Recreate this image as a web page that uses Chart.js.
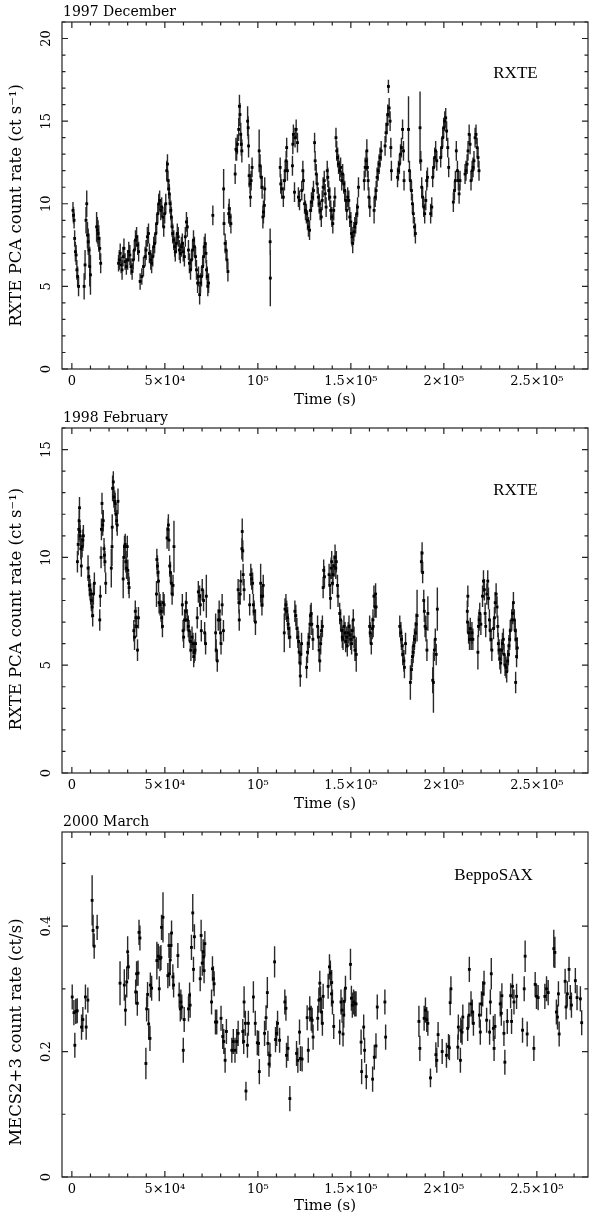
<!DOCTYPE html>
<html>
<head>
<meta charset="utf-8">
<script src="https://cdn.jsdelivr.net/npm/chart.js@4.4.1/dist/chart.umd.min.js"></script>
<style>
html, body { margin: 0; padding: 0; background: #fff; }
#wrap { position: relative; width: 592px; height: 1216px; overflow: hidden; }
#wrap canvas { position: absolute; left: 0; }
</style>
</head>
<body>
<div id="wrap">
  <canvas id="c1" width="592" height="410" style="top:0"></canvas>
  <canvas id="c2" width="592" height="408" style="top:406px"></canvas>
  <canvas id="c3" width="592" height="406" style="top:810px"></canvas>
</div>
<script>
// time in ks, rate, 1-sigma error
const dec97 = [
[0.6,9.6,0.5],[0.9,9.3,0.5],[1.2,9.0,0.5],[1.5,7.9,0.5],[1.9,7.1,0.6],[2.3,6.9,0.6],[2.7,6.0,0.6],[3.1,5.6,0.6],[3.6,5.0,0.6],
[6.6,5.0,0.8],[7.1,6.3,0.9],[7.6,9.0,0.8],[8.0,10.0,0.8],[8.4,8.1,0.8],[8.8,7.7,0.8],[9.2,7.2,1.0],[9.6,6.2,1.2],[10.0,5.7,1.2],
[13.3,8.6,0.9],[13.7,8.4,0.8],[14.1,8.2,0.8],[14.5,7.9,0.8],[15.0,7.3,0.7],[15.5,6.4,0.6],
[25.1,6.4,0.5],[25.5,6.6,0.6],[26.0,7.0,0.6],[26.5,6.3,0.5],[27.0,6.0,0.6],[27.5,6.8,0.6],[28.0,7.3,0.6],[28.6,6.5,0.5],[29.3,6.2,0.5],[30.0,6.6,0.6],[30.6,7.1,0.6],[31.2,6.9,0.6],[31.8,6.2,0.5],[32.4,5.9,0.5],[33.0,6.6,0.6],[33.6,7.2,0.6],[34.2,7.8,0.6],[34.8,8.0,0.6],[35.4,7.5,0.6],[35.9,7.1,0.6],
[36.7,5.3,0.5],[37.6,5.6,0.5],[38.5,6.2,0.6],[39.4,6.8,0.6],[39.9,7.2,0.6],[40.6,8.0,0.6],[41.2,8.2,0.6],[41.7,7.0,0.6],[42.4,6.6,0.6],[42.9,6.4,0.6],[43.5,6.8,0.6],[44.0,7.4,0.6],[44.5,7.6,0.6],[45.1,8.2,0.6],[45.6,8.8,0.6],[46.2,9.4,0.6],[46.7,10.0,0.6],[47.2,10.2,0.6],[47.8,9.6,0.6],[48.3,9.8,0.6],[48.9,9.2,0.6],[49.4,8.6,0.6],[49.9,9.4,0.6],[50.5,10.0,0.6],
[51.0,12.0,0.6],[51.4,12.4,0.6],[51.7,11.4,0.6],[52.1,10.9,0.6],[52.4,10.6,0.6],[52.8,10.0,0.6],[53.2,9.6,0.6],[53.5,9.2,0.6],[53.9,8.6,0.6],[54.2,8.2,0.6],[54.8,7.8,0.6],[55.3,7.4,0.6],[55.6,7.1,0.6],[56.2,7.6,0.6],[56.7,8.2,0.6],[57.2,8.0,0.6],[57.8,7.2,0.6],[58.3,7.0,0.6],[58.9,7.4,0.6],[59.4,7.6,0.6],[59.9,7.1,0.6],[60.5,6.8,0.6],[61.0,8.0,0.6],[61.6,8.9,0.6],[62.1,8.6,0.6],[62.7,7.2,0.6],[63.2,6.4,0.6],[63.8,6.0,0.6],[64.3,6.6,0.6],[64.9,7.2,0.6],[65.4,7.8,0.6],[65.9,7.4,0.6],[66.5,6.8,0.6],[67.0,6.0,0.6],[67.6,5.2,0.6],[68.1,5.6,0.6],[68.7,4.5,0.6],[69.2,5.2,0.6],[69.7,5.6,0.6],[70.3,6.2,0.6],[70.8,6.8,0.6],[71.2,7.4,0.6],[71.7,7.6,0.6],[72.1,7.0,0.6],[72.4,6.0,0.6],[72.8,5.6,0.6],[73.1,5.0,0.6],[73.5,5.2,0.6],
[75.8,9.3,0.6],
[81.6,10.9,1.2],[81.8,8.8,0.7],[82.4,7.6,0.6],[82.9,7.2,0.6],[83.4,6.6,0.6],[83.9,5.9,0.6],[84.3,9.4,0.6],[84.6,9.7,0.6],[85.0,9.2,0.6],[85.5,8.8,0.6],
[87.8,11.8,0.6],[88.2,13.3,0.7],[88.6,13.2,0.6],[89.0,13.6,0.6],[89.7,14.5,0.7],[90.1,15.9,0.7],[90.4,15.4,0.7],[90.8,14.2,0.7],[91.1,13.6,0.7],[91.4,13.2,0.7],
[94.5,15.0,0.9],[94.8,14.6,0.7],[95.0,13.5,0.7],[95.3,11.7,0.7],[95.8,11.2,0.6],[96.0,10.4,0.6],[96.4,11.4,0.6],[96.9,12.2,0.6],
[100.7,13.2,1.3],[101.2,12.3,0.7],[101.8,11.6,0.7],[102.3,11.0,0.7],[102.7,9.2,0.7],[103.0,9.5,0.7],[103.5,9.9,0.7],[103.7,10.9,0.7],
[106.6,7.7,0.8],[106.7,5.5,1.7],
[112.0,12.2,0.6],[112.3,11.2,0.6],[112.8,10.9,0.6],[113.7,10.4,0.6],[114.3,11.4,0.6],[114.7,12.0,0.6],[115.2,12.6,0.6],[115.5,13.4,0.6],[115.9,12.0,0.6],
[118.6,12.3,0.6],[118.8,13.6,0.6],[119.1,14.2,0.6],[119.7,10.7,0.6],[120.0,14.0,0.6],[120.6,14.5,0.6],[121.3,13.7,0.6],[121.8,10.4,0.6],[122.4,10.2,0.6],
[123.6,10.8,0.6],[124.2,12.0,0.6],[124.5,11.4,0.6],[125.1,10.0,0.6],[125.6,9.6,0.6],[126.1,9.4,0.6],[126.7,9.0,0.6],[127.2,8.6,0.6],[127.8,8.4,0.6],[128.3,9.6,0.6],[128.8,10.1,0.6],[129.4,10.4,0.6],[129.9,10.8,0.6],
[130.5,13.7,0.6],[130.8,12.6,0.6],[131.4,11.8,0.6],[131.9,11.2,0.6],[132.5,10.4,0.6],[133.0,10.0,0.6],[133.5,9.6,0.6],[134.1,9.2,0.6],[134.6,10.2,0.6],[135.1,11.0,0.6],[135.7,11.4,0.6],[136.2,10.6,0.6],[136.7,9.8,0.6],[137.3,12.0,0.6],[137.6,11.6,0.6],[138.1,10.8,0.6],[138.7,10.4,0.6],[139.2,9.6,0.6],[139.8,9.2,0.6],[140.3,8.8,0.6],[140.8,9.6,0.6],[141.4,10.4,0.6],
[142.0,14.0,0.6],[142.4,13.2,0.6],[142.9,12.8,0.6],[143.4,12.4,0.6],[144.0,12.0,0.6],[144.5,12.2,0.6],[145.1,11.4,0.6],[145.6,11.8,0.6],[146.2,11.2,0.6],[146.7,10.8,0.6],[147.2,10.2,0.6],[147.8,9.6,0.6],[148.3,10.4,0.6],[148.9,10.2,0.6],[149.4,9.2,0.6],[150.0,8.9,0.6],[150.3,8.2,0.6],[150.7,8.0,0.6],[151.0,7.6,0.6],[151.6,8.3,0.6],[152.1,8.6,0.6],[152.6,8.8,0.6],[153.2,9.4,0.6],[153.6,9.8,0.6],[154.1,11.0,0.6],
[157.2,11.4,0.6],[157.7,12.2,0.6],[158.2,12.6,0.6],[158.6,13.2,0.7],[158.9,12.2,0.6],[159.3,11.4,0.6],[159.7,10.4,0.6],[160.2,9.8,0.6],
[162.5,9.6,0.8],[163.1,10.4,0.6],[163.6,10.8,0.6],[164.1,11.6,0.6],[164.7,12.0,0.6],[165.2,12.4,0.6],[165.7,12.8,0.6],[166.3,13.2,0.6],
[168.4,13.5,0.6],[168.9,14.3,0.6],[169.5,14.8,0.6],[169.8,15.4,0.6],[170.2,17.1,0.4],[170.6,15.8,0.6],[171.1,15.0,0.6],[171.5,13.4,0.6],[171.8,12.0,0.6],
[175.1,11.6,0.6],[175.6,12.0,0.6],[176.1,12.4,0.6],[176.7,13.0,0.6],[177.2,13.4,0.6],[177.8,14.5,0.6],[178.3,13.2,0.6],[178.6,11.4,0.6],
[181.0,14.5,2.0],[181.5,12.0,0.6],[182.0,11.4,0.6],[182.6,10.8,0.6],[183.1,10.0,0.6],[183.6,9.4,0.6],[184.2,8.6,0.6],[184.7,8.2,0.6],
[187.2,14.6,2.2],[187.6,12.6,0.6],[188.1,11.0,0.6],[188.6,10.4,0.6],[189.2,9.8,0.6],[189.7,9.4,0.6],[190.3,10.2,0.6],[190.8,11.4,0.6],[191.2,11.6,0.6],
[192.9,9.4,0.6],[193.5,9.8,0.6],[194.0,11.6,0.6],[194.5,12.2,0.6],[195.1,12.8,0.6],[195.6,13.2,0.6],[196.2,12.6,0.6],
[198.3,12.8,0.6],[198.8,13.4,0.6],[199.4,14.0,0.6],[199.9,14.6,0.6],[200.5,15.0,0.6],[201.0,15.2,0.6],[201.5,14.4,0.6],[202.1,13.4,0.6],[202.6,12.2,0.6],
[205.1,10.1,0.6],[205.7,10.8,0.6],[206.2,11.4,0.6],[206.7,13.2,0.6],[207.3,12.0,0.6],[207.8,11.4,0.6],[208.2,10.6,0.6],[208.7,11.4,0.6],
[211.4,11.8,0.6],[211.9,12.0,0.6],[212.5,12.4,0.6],[213.0,13.2,0.6],[213.6,14.2,0.6],[214.1,13.6,0.6],[214.6,11.4,0.6],[215.2,12.0,0.6],[215.7,12.2,0.6],[216.2,12.6,0.6],[216.8,14.0,0.6],[217.3,14.2,0.6],[217.9,13.4,0.6],[218.4,12.8,0.6],[218.9,12.0,0.6]
];

const feb98 = [
[3.0,9.8,0.5],[3.4,10.6,0.5],[3.7,11.3,0.5],[3.9,11.7,0.5],[4.1,12.3,0.5],[4.3,11.2,0.5],[4.5,11.0,0.5],[4.8,10.4,0.5],[5.1,9.6,0.5],[5.5,10.5,0.5],[5.9,10.8,0.5],[6.2,11.0,0.5],
[8.7,9.5,0.6],[9.1,9.1,0.5],[9.4,8.7,0.5],[9.8,8.5,0.5],[10.1,8.3,0.5],[10.5,8.0,0.5],[10.9,7.7,0.5],[11.2,7.3,0.5],[11.6,8.3,0.5],[12.1,8.8,0.5],
[15.0,7.1,0.5],[15.3,8.2,0.5],[15.7,10.0,0.5],[15.9,11.3,0.5],[16.2,12.5,0.5],[16.6,11.5,0.5],[16.9,11.7,0.5],[17.3,10.4,0.5],[17.5,10.1,0.5],[17.8,9.8,0.5],[18.2,8.8,0.5],
[21.2,9.5,0.9],[21.6,10.5,0.9],[21.7,11.4,0.6],[21.9,13.2,0.6],[22.3,13.5,0.5],[22.6,12.8,0.5],[23.0,12.6,0.5],[23.3,12.5,0.5],[23.7,12.0,0.5],[24.1,11.7,0.5],[24.4,11.5,0.5],[24.8,12.6,0.6],
[27.6,9.0,0.9],[27.9,10.0,0.6],[28.3,10.5,0.5],[28.7,10.6,0.5],[29.0,9.8,0.5],[29.4,9.5,0.5],[29.8,10.5,0.5],[30.1,9.4,0.5],[30.5,8.8,0.5],[30.8,8.6,0.5],
[33.3,6.6,0.5],[33.7,6.3,0.6],[34.1,7.5,0.5],[34.4,7.2,0.5],[34.8,6.8,0.5],[35.3,5.7,0.5],[35.8,7.2,0.5],
[45.5,8.3,0.6],[45.7,9.9,0.5],[46.0,9.6,0.5],[46.3,9.3,0.5],[46.6,8.9,0.5],[46.9,7.9,0.5],[47.4,7.8,0.5],[48.0,7.5,0.5],[48.3,7.2,0.5],[48.7,6.8,0.5],[49.1,7.9,0.5],[49.6,7.8,0.5],
[51.2,10.9,0.5],[51.7,11.3,0.5],[51.9,11.5,0.5],[52.2,10.8,0.5],[52.6,9.6,0.5],[53.0,9.3,0.5],[53.5,8.8,0.5],[53.9,8.3,0.5],[54.4,8.7,0.5],[54.9,10.5,1.2],
[59.4,7.8,0.5],[59.8,6.6,0.5],[60.1,6.3,0.5],[60.6,7.1,0.5],[61.2,7.5,0.5],[61.5,7.9,0.5],[62.1,7.1,0.5],[62.6,6.8,0.5],[63.0,6.6,0.5],
[63.7,6.1,0.5],[64.0,5.7,0.5],[64.6,6.3,0.5],[65.1,6.0,0.5],[65.5,5.4,0.5],[65.8,5.6,0.5],[66.2,5.7,0.5],[66.5,6.0,0.5],
[67.4,7.2,0.5],[68.0,8.4,0.5],[68.7,8.2,0.5],[69.1,7.8,0.5],[69.6,6.6,0.5],[70.1,8.5,0.5],[70.8,8.0,0.5],[71.4,6.5,0.5],[71.9,6.0,0.5],[72.3,8.2,1.0],
[77.3,6.5,0.9],[77.6,5.7,0.5],[78.2,5.2,0.5],[78.7,7.1,0.5],[79.2,7.5,0.5],[79.6,7.1,0.5],[79.9,6.5,0.5],[80.2,6.0,0.5],[80.8,7.8,0.5],[81.5,6.6,0.5],
[89.4,8.5,0.5],[89.8,7.9,0.5],[90.0,7.1,0.5],[90.5,8.3,0.5],[90.8,8.9,0.5],[91.4,10.4,0.5],[91.6,11.2,0.6],[91.9,10.3,0.5],[92.1,9.2,0.5],[92.6,8.5,0.5],
[95.6,7.8,0.5],[96.2,9.2,0.5],[96.7,9.0,0.5],[97.2,8.8,0.5],[97.6,7.8,0.5],[98.0,7.5,0.5],[98.7,7.0,0.6],
[101.5,8.8,0.9],[101.9,8.2,0.5],[102.2,7.8,0.5],[102.6,8.2,0.5],[102.9,8.7,0.5],
[114.2,6.5,0.9],[114.6,7.6,0.5],[115.1,7.8,0.5],[115.5,7.5,0.5],[116.0,7.2,0.5],[116.3,6.9,0.5],[116.5,6.7,0.5],[117.2,6.3,0.5],
[119.9,7.5,0.5],[120.4,7.3,0.5],[121.0,6.7,0.5],[121.5,6.3,0.5],[121.9,6.1,0.5],[122.2,5.6,0.5],[122.6,5.1,0.5],[122.8,4.5,0.5],[123.1,5.5,0.5],[123.5,6.0,0.5],
[126.2,4.9,0.5],[126.7,5.6,0.5],[127.1,6.0,0.5],[127.6,6.3,0.5],[128.0,6.9,0.5],[128.3,7.3,0.5],[128.7,7.4,0.5],[129.0,6.9,0.5],[129.6,6.2,0.5],
[132.1,6.8,0.5],[132.6,6.3,0.5],[132.9,5.7,0.5],[133.3,5.2,0.5],[133.8,6.0,0.5],[134.2,6.6,0.5],[134.7,6.8,0.5],
[135.1,8.6,0.5],[135.4,9.4,0.5],[135.8,9.1,0.5],[138.3,9.2,0.5],[138.7,8.7,0.5],[139.0,8.1,0.5],[139.4,9.5,0.5],[139.7,9.8,0.5],[140.1,8.8,0.5],[140.4,9.2,0.5],[141.0,9.6,0.5],[141.5,10.0,0.6],[141.9,9.5,0.5],[142.2,9.8,0.5],[142.8,8.7,0.5],[143.1,8.2,0.5],
[144.0,7.4,0.5],[144.5,7.1,0.5],[145.1,6.6,0.5],[145.4,6.3,0.5],[145.8,6.2,0.5],[146.3,6.8,0.5],[146.9,6.5,0.5],[147.2,6.1,0.5],[147.8,6.3,0.5],[148.1,5.9,0.5],[148.6,6.5,0.5],[149.0,6.8,0.5],[149.5,6.4,0.5],[149.9,6.2,0.5],[150.4,6.0,0.5],[150.8,6.6,0.5],[151.3,7.1,0.5],[151.7,6.3,0.5],[152.2,5.7,0.5],[152.9,5.5,0.8],
[160.1,6.8,0.5],[160.4,6.5,0.5],[161.0,6.0,0.5],[161.5,6.7,0.5],[161.9,7.1,0.5],[162.0,6.8,0.5],[162.4,8.2,0.5],[162.9,7.7,0.5],[163.3,8.3,0.5],[163.6,7.7,0.5],
[176.3,6.8,0.5],[176.9,6.5,0.5],[177.2,6.2,0.5],[177.6,5.9,0.5],[177.9,5.5,0.5],[178.5,5.2,0.5],[178.8,4.9,0.5],[179.4,6.0,0.5],
[182.0,4.2,0.8],[182.6,4.8,0.5],[183.1,5.4,0.5],[183.5,5.6,0.5],[183.8,5.9,0.5],[184.2,6.2,0.5],[184.7,6.5,0.5],[185.1,6.9,0.5],[185.6,7.3,1.2],
[187.9,9.8,0.5],[188.3,10.2,0.5],[188.6,9.3,0.5],[189.2,8.0,0.5],[189.5,7.5,0.5],[189.9,6.8,0.5],[190.4,6.7,0.6],[190.9,5.7,0.5],[191.4,7.4,0.8],
[194.0,4.3,0.6],[194.4,4.2,1.4],[194.9,5.7,0.5],[195.4,6.2,0.5],[195.9,5.5,0.5],[196.5,7.6,1.0],
[212.6,7.5,0.5],[212.7,7.0,0.5],[212.9,8.2,0.5],[213.3,6.5,0.5],[213.8,6.2,0.5],[214.2,6.7,0.5],[214.7,6.2,0.5],[215.1,6.5,0.5],[215.6,6.2,0.5],
[218.3,5.6,0.8],[218.6,6.8,0.5],[219.0,7.1,0.5],[219.3,7.4,0.5],[219.9,6.9,0.5],[220.8,8.2,0.5],[221.3,8.9,0.5],[221.8,8.5,0.5],[222.2,7.4,0.5],[222.5,6.8,0.5],[223.1,8.3,0.5],[223.6,8.9,0.5],[224.0,8.1,0.5],[224.5,7.1,0.5],[224.9,6.6,0.5],[225.4,6.2,0.5],[225.8,5.7,0.5],[226.7,6.7,0.5],[227.2,7.2,0.5],[227.6,7.9,0.5],[228.1,8.3,0.5],[228.6,7.7,0.5],[229.0,6.8,0.5],[229.3,6.0,0.5],[229.7,5.7,0.5],[230.1,5.3,0.5],[230.6,5.1,0.5],[231.0,5.7,0.5],[231.5,6.0,0.5],[232.0,6.2,0.5],[232.4,5.5,0.5],[232.9,5.0,0.5],[233.4,4.9,0.5],[233.8,4.7,0.5],[234.3,5.2,0.5],[234.7,5.5,0.5],[235.0,5.9,0.5],[235.4,6.2,0.5],[235.7,6.6,0.5],[236.5,7.1,0.5],[237.0,7.4,0.5],[237.4,7.9,0.5],[237.9,7.1,0.5],[238.4,6.6,0.5],[238.6,4.2,0.5],[238.8,6.2,0.5],[239.1,5.4,0.5],[239.5,5.8,0.5]
];

const mar00 = [
[0.2,0.287,0.02],[1.1,0.262,0.02],[1.6,0.210,0.02],[2.1,0.264,0.02],[2.9,0.265,0.02],
[5.2,0.239,0.02],[5.9,0.251,0.02],[7.3,0.287,0.02],[7.7,0.239,0.02],[8.6,0.282,0.02],
[10.9,0.441,0.04],[11.4,0.393,0.025],[12.0,0.368,0.02],[13.6,0.398,0.02],
[25.9,0.309,0.035],[28.2,0.306,0.025],[28.8,0.266,0.025],[29.5,0.311,0.025],[30.0,0.359,0.025],[30.4,0.335,0.02],
[34.3,0.295,0.02],[34.8,0.324,0.02],[35.2,0.277,0.02],[35.6,0.325,0.02],[36.1,0.390,0.02],[36.6,0.381,0.02],
[39.8,0.181,0.025],[40.2,0.268,0.02],[40.7,0.291,0.02],[41.3,0.244,0.025],[42.0,0.221,0.02],[42.2,0.306,0.02],[42.9,0.301,0.02],
[45.7,0.345,0.03],[46.5,0.352,0.02],[47.0,0.300,0.02],[47.4,0.348,0.02],[47.9,0.350,0.02],[48.2,0.398,0.02],[49.0,0.414,0.04],
[51.6,0.321,0.02],[52.2,0.369,0.02],[52.5,0.324,0.02],[52.9,0.346,0.02],[53.3,0.369,0.02],[53.6,0.389,0.02],[54.3,0.319,0.02],[54.7,0.306,0.02],
[57.0,0.353,0.02],[57.7,0.290,0.02],[58.3,0.268,0.02],[58.6,0.279,0.02],[59.1,0.271,0.02],[59.9,0.202,0.02],[60.4,0.251,0.02],
[62.7,0.268,0.02],[63.3,0.290,0.02],[63.6,0.274,0.02],[64.3,0.366,0.02],[65.0,0.421,0.03],[65.4,0.331,0.02],[65.9,0.383,0.02],
[69.0,0.316,0.02],[69.5,0.385,0.025],[70.1,0.341,0.02],[70.6,0.359,0.02],[70.9,0.351,0.02],[71.1,0.329,0.02],[71.5,0.372,0.02],
[75.1,0.279,0.02],[75.6,0.332,0.02],[76.1,0.316,0.02],[76.5,0.308,0.02],[77.2,0.247,0.02],[77.9,0.247,0.02],
[80.2,0.253,0.02],[81.1,0.224,0.02],[81.7,0.216,0.02],[82.4,0.186,0.02],[83.1,0.232,0.02],
[86.0,0.202,0.02],[86.8,0.216,0.02],[87.7,0.202,0.02],[88.6,0.216,0.02],[89.4,0.229,0.02],
[91.9,0.232,0.02],[92.4,0.216,0.02],[92.6,0.279,0.025],[93.3,0.245,0.02],[93.6,0.137,0.015],[94.4,0.210,0.02],[94.9,0.245,0.02],
[97.6,0.287,0.025],[98.6,0.245,0.02],[99.7,0.214,0.02],[100.4,0.213,0.02],[100.8,0.168,0.02],
[103.6,0.229,0.02],[104.4,0.254,0.02],[105.1,0.294,0.025],[105.4,0.213,0.02],[106.0,0.180,0.02],[106.5,0.194,0.02],
[109.0,0.343,0.025],[109.5,0.219,0.02],[110.1,0.229,0.02],[110.6,0.245,0.02],[111.7,0.218,0.02],
[114.5,0.279,0.02],[115.1,0.269,0.02],[115.4,0.194,0.02],[116.2,0.205,0.02],[117.2,0.125,0.02],
[120.8,0.197,0.02],[121.5,0.186,0.02],[122.4,0.231,0.02],[122.9,0.189,0.02],[123.8,0.188,0.02],
[126.5,0.254,0.02],[127.1,0.202,0.02],[127.9,0.268,0.02],[128.7,0.253,0.02],[129.2,0.250,0.02],[129.7,0.223,0.02],
[132.2,0.253,0.02],[132.8,0.282,0.02],[133.3,0.309,0.02],[133.7,0.284,0.02],[134.2,0.263,0.02],[134.7,0.245,0.02],[135.1,0.288,0.02],
[137.8,0.304,0.02],[138.5,0.335,0.02],[139.0,0.325,0.02],[139.6,0.292,0.02],[139.7,0.310,0.02],[140.1,0.279,0.02],[140.8,0.240,0.02],
[144.0,0.231,0.02],[144.7,0.279,0.02],[145.3,0.266,0.02],[145.8,0.228,0.02],[146.2,0.258,0.02],[146.5,0.280,0.02],[147.1,0.301,0.02],
[149.8,0.339,0.025],[150.3,0.285,0.02],[150.8,0.274,0.02],[151.5,0.279,0.02],[152.1,0.276,0.02],[152.8,0.276,0.02],
[155.5,0.215,0.02],[155.8,0.168,0.02],[156.9,0.239,0.02],[157.4,0.202,0.02],[158.3,0.160,0.02],
[161.7,0.156,0.02],[162.6,0.191,0.02],[163.5,0.209,0.02],[164.2,0.271,0.02],
[168.3,0.279,0.02],[168.7,0.223,0.02],
[186.6,0.248,0.025],[187.1,0.205,0.02],[189.4,0.253,0.02],[190.1,0.266,0.02],[190.8,0.251,0.02],[191.4,0.245,0.02],
[192.8,0.158,0.015],[195.7,0.195,0.02],[196.2,0.186,0.02],[196.9,0.227,0.02],[199.1,0.200,0.02],
[201.4,0.194,0.02],[202.5,0.208,0.02],[203.0,0.206,0.02],[203.4,0.278,0.02],[203.8,0.300,0.02],
[207.5,0.207,0.02],[207.8,0.239,0.02],[208.9,0.186,0.02],[209.1,0.234,0.02],[209.8,0.231,0.02],[210.2,0.255,0.02],
[212.8,0.237,0.02],[213.5,0.258,0.02],[213.7,0.331,0.02],[214.6,0.276,0.02],[215.3,0.263,0.02],[215.9,0.245,0.02],
[219.1,0.258,0.02],[219.6,0.231,0.02],[220.2,0.276,0.02],[220.9,0.292,0.02],[221.6,0.309,0.02],[223.0,0.250,0.02],[224.6,0.231,0.02],[225.0,0.279,0.02],[225.5,0.324,0.025],[226.6,0.237,0.02],[227.0,0.205,0.02],[227.5,0.240,0.02],
[230.3,0.276,0.02],[230.9,0.261,0.02],[231.2,0.289,0.02],[232.3,0.229,0.02],[232.8,0.183,0.02],[234.1,0.248,0.02],[235.9,0.289,0.02],[236.4,0.248,0.02],[236.9,0.304,0.02],[237.7,0.279,0.02],
[239.1,0.288,0.02],[242.3,0.234,0.02],[243.2,0.300,0.02],[243.7,0.352,0.025],[244.8,0.228,0.02],[248.4,0.205,0.02],
[249.1,0.307,0.02],[249.8,0.288,0.02],[250.7,0.286,0.02],[254.3,0.288,0.02],[255.2,0.300,0.02],[256.1,0.294,0.02],
[259.1,0.364,0.03],[259.7,0.358,0.025],[260.5,0.263,0.02],[261.1,0.255,0.02],[261.6,0.292,0.02],[262.0,0.228,0.02],
[265.2,0.312,0.02],[265.7,0.271,0.02],[266.4,0.292,0.02],[267.3,0.331,0.02],[268.0,0.286,0.02],[268.6,0.274,0.02],[270.7,0.313,0.02],[271.6,0.286,0.02],[273.4,0.284,0.02],[274.1,0.246,0.02]
];

const xTickVals = [0, 50, 100, 150, 200, 250];
const xTickText = ['0', '5×10⁴', '10⁵', '1.5×10⁵', '2×10⁵', '2.5×10⁵'];
const yTicks97 = [0, 5, 10, 15, 20];
const yTicks98 = [0, 5, 10, 15];
const yTicks00 = [0, 0.2, 0.4];

Chart.defaults.font.family = "'DejaVu Serif', serif";
Chart.defaults.color = '#000';

function errorBars(rows) {
  const out = [];
  rows.forEach(([t, r, e]) => {
    out.push({x: t, y: r - e}, {x: t, y: r + e}, {x: t, y: null});
  });
  return out;
}

// PGPLOT-like box: frame, inward ticks on all sides, rotated y labels, titles
const pgBox = {
  id: 'pgBox',
  afterDraw(chart, args, o) {
    const {ctx, chartArea: a} = chart;
    const xs = chart.scales.x, ys = chart.scales.y;
    ctx.save();
    ctx.strokeStyle = '#222';
    ctx.lineWidth = 1.2;
    ctx.strokeRect(a.left, a.top, a.right - a.left, a.bottom - a.top);
    ctx.beginPath();
    for (let i = 0; i * 10 <= xs.max; i++) {
      const px = xs.getPixelForValue(i * 10);
      const len = i % 5 === 0 ? 6 : 3.5;
      ctx.moveTo(px, a.bottom); ctx.lineTo(px, a.bottom - len);
      ctx.moveTo(px, a.top); ctx.lineTo(px, a.top + len);
    }
    for (let i = 0; i * o.yStep <= ys.max + 1e-9; i++) {
      const py = ys.getPixelForValue(i * o.yStep);
      const len = i % o.yMajorEvery === 0 ? 6 : 3.5;
      ctx.moveTo(a.left, py); ctx.lineTo(a.left + len, py);
      ctx.moveTo(a.right, py); ctx.lineTo(a.right - len, py);
    }
    ctx.stroke();

    ctx.fillStyle = '#000';
    ctx.textAlign = 'center';
    ctx.textBaseline = 'middle';
    ctx.font = "13px 'DejaVu Serif'";
    ys.ticks.forEach(tk => {
      ctx.save();
      ctx.translate(a.left - 15, ys.getPixelForValue(tk.value));
      ctx.rotate(-Math.PI / 2);
      ctx.fillText(String(tk.value), 0, 0);
      ctx.restore();
    });

    ctx.save();
    ctx.font = "16.5px 'DejaVu Serif'";
    ctx.translate(17, ys.getPixelForValue(o.yTitleAt));
    ctx.rotate(-Math.PI / 2);
    ctx.fillText(o.yTitle, 0, 0);
    ctx.restore();

    ctx.textAlign = 'left';
    ctx.textBaseline = 'alphabetic';
    ctx.font = "14px 'DejaVu Serif'";
    ctx.fillText(o.title, a.left + 1, a.top - 6);

    ctx.textAlign = 'center';
    ctx.textBaseline = 'middle';
    ctx.font = "17px 'Liberation Serif'";
    ctx.fillText(o.tag, xs.getPixelForValue(o.tagAt[0]), ys.getPixelForValue(o.tagAt[1]));
    ctx.restore();
  }
};

function panel(id, rows, yMax, yTicks, xHeight, box) {
  return new Chart(document.getElementById(id), {
    type: 'scatter',
    data: {
      datasets: [
        {
          data: errorBars(rows),
          showLine: true,
          spanGaps: false,
          borderColor: '#2a2a2a',
          borderWidth: 1.4,
          pointRadius: 0,
          order: 2
        },
        {
          data: rows.map(([t, r]) => ({x: t, y: r})),
          pointStyle: 'rect',
          pointRadius: 2,
          backgroundColor: '#000',
          borderWidth: 0,
          order: 1
        }
      ]
    },
    options: {
      responsive: false,
      animation: false,
      events: [],
      layout: {padding: {top: 22, right: 3, left: 0, bottom: 0}},
      plugins: {legend: {display: false}, tooltip: {enabled: false}, pgBox: box},
      scales: {
        x: {
          type: 'linear',
          min: -5.3,
          max: 277.5,
          afterBuildTicks: s => { s.ticks = xTickVals.map(v => ({value: v})); },
          afterFit: s => { s.height = xHeight; },
          grid: {display: false, drawTicks: false},
          border: {display: false},
          ticks: {
            autoSkip: false, maxRotation: 0, padding: 5,
            font: {size: 13}, color: '#000',
            callback: v => xTickText[xTickVals.indexOf(v)]
          },
          title: {display: true, text: 'Time (s)', font: {size: 15}, color: '#000', padding: {top: 0, bottom: 1}}
        },
        y: {
          type: 'linear',
          min: 0,
          max: yMax,
          afterBuildTicks: s => { s.ticks = yTicks.map(v => ({value: v})); },
          afterFit: s => { s.width = 62; },
          grid: {display: false, drawTicks: false},
          border: {display: false},
          ticks: {display: false}
        }
      }
    },
    plugins: [pgBox]
  });
}

panel('c1', dec97, 21, yTicks97, 41,
  {title: '1997 December', tag: 'RXTE', tagAt: [238.5, 17.9], yStep: 1, yMajorEvery: 5,
   yTitle: 'RXTE PCA count rate (ct s⁻¹)', yTitleAt: 9.9});
panel('c2', feb98, 16, yTicks98, 41,
  {title: '1998 February', tag: 'RXTE', tagAt: [238.5, 13.1], yStep: 1, yMajorEvery: 5,
   yTitle: 'RXTE PCA count rate (ct s⁻¹)', yTitleAt: 7.6});
panel('c3', mar00, 0.55, yTicks00, 39,
  {title: '2000 March', tag: 'BeppoSAX', tagAt: [226.7, 0.481], yStep: 0.1, yMajorEvery: 2,
   yTitle: 'MECS2+3 count rate (ct/s)', yTitleAt: 0.231});
</script>
</body>
</html>
